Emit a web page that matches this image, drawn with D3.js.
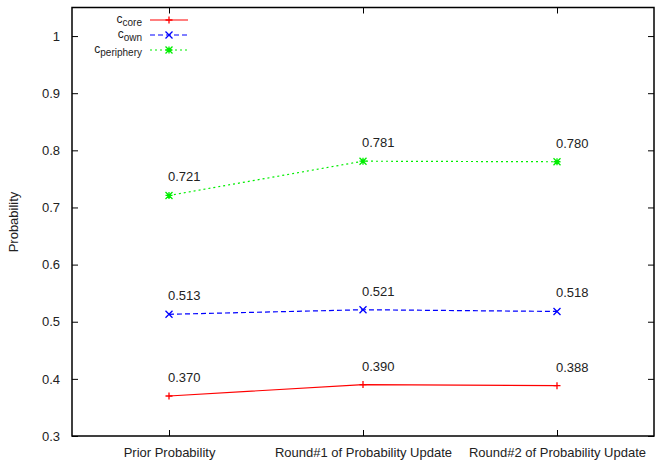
<!DOCTYPE html>
<html>
<head>
<meta charset="utf-8">
<script src="https://cdn.jsdelivr.net/npm/d3@7"></script>
<style>
  body { margin: 0; background: #fff; }
  svg text { font-family: "Liberation Sans", Arial, sans-serif; }
</style>
</head>
<body>
<div id="chart"></div>
<script>
// data
const categories = ["Prior Probability", "Round#1 of Probability Update", "Round#2 of Probability Update"];
const coreValues = [0.370, 0.390, 0.388];
const ownValues = [0.513, 0.521, 0.518];
const peripheryValues = [0.721, 0.781, 0.780];
const yTicks = [0.3, 0.4, 0.5, 0.6, 0.7, 0.8, 0.9, 1];

const seriesNames = [
  {base: "c", sub: "core"},
  {base: "c", sub: "own"},
  {base: "c", sub: "periphery"}
];
const seriesValues = [coreValues, ownValues, peripheryValues];
const colors = ["#ff0000", "#0000ff", "#00ee00"];
const dashes = [null, "5,3", "2,3"];
const markers = ["plus", "cross", "star"];

const W = 662, H = 460;
const margin = {top: 7.5, right: 8, bottom: 24, left: 72};
const width = W - margin.left - margin.right,
    height = H - margin.top - margin.bottom;

const svg = d3.select("#chart")
    .append("svg")
    .attr("width", W)
    .attr("height", H)
    .append("g")
    .attr("transform", `translate(${margin.left},${margin.top})`);

const xScale = d3.scaleLinear()
    .domain([-0.5, categories.length - 0.5])
    .range([0, width]);

const yScale = d3.scaleLinear()
    .domain([0.3, 1.05])
    .range([height, 0]);

// left axis (ticks inward)
svg.append("g")
    .call(d3.axisLeft(yScale).tickValues(yTicks).tickSize(-6).tickPadding(12)
        .tickFormat(d => d3.format("")(+d.toFixed(1))))
    .call(g => g.select(".domain").remove())
    .call(g => g.selectAll("text").attr("font-size", "13px").attr("fill", "#222"));

// right mirror ticks
svg.append("g")
    .attr("transform", `translate(${width},0)`)
    .call(d3.axisRight(yScale).tickValues(yTicks).tickSize(-6).tickFormat(""))
    .call(g => g.select(".domain").remove());

// bottom axis
svg.append("g")
    .attr("transform", `translate(0,${height})`)
    .call(d3.axisBottom(xScale).tickValues(d3.range(categories.length)).tickSize(-6).tickPadding(12)
        .tickFormat(i => categories[i]))
    .call(g => g.select(".domain").remove())
    .call(g => g.selectAll("text").attr("font-size", "13px").attr("fill", "#222"));

// top mirror ticks
svg.append("g")
    .call(d3.axisTop(xScale).tickValues(d3.range(categories.length)).tickSize(-6).tickFormat(""))
    .call(g => g.select(".domain").remove());

svg.selectAll(".tick line").attr("stroke", "#000");

// frame
svg.append("rect")
    .attr("x", 0).attr("y", 0)
    .attr("width", width).attr("height", height)
    .attr("fill", "none")
    .attr("stroke", "#000")
    .attr("stroke-width", 1.5);

// y title
svg.append("text")
    .attr("transform", `translate(${18 - margin.left},${222 - margin.top}) rotate(-90)`)
    .attr("text-anchor", "middle")
    .attr("font-size", "13px")
    .attr("fill", "#222")
    .text("Probability");

function drawMarker(g, type, x, y, color) {
  const s = 3.5;
  const p = d3.path();
  if (type === "plus" || type === "star") {
    p.moveTo(x - s, y); p.lineTo(x + s, y);
    p.moveTo(x, y - s); p.lineTo(x, y + s);
  }
  if (type === "cross" || type === "star") {
    p.moveTo(x - s, y - s); p.lineTo(x + s, y + s);
    p.moveTo(x - s, y + s); p.lineTo(x + s, y - s);
  }
  g.append("path")
      .attr("d", p.toString())
      .attr("stroke", color)
      .attr("stroke-width", 1.3)
      .attr("fill", "none");
}

const line = d3.line()
    .x((d, i) => xScale(i))
    .y(d => yScale(d));

seriesValues.forEach(function (vals, k) {
  const g = svg.append("g");
  g.append("path")
      .datum(vals)
      .attr("d", line)
      .attr("fill", "none")
      .attr("stroke", colors[k])
      .attr("stroke-width", 1.2)
      .attr("stroke-dasharray", dashes[k]);
  vals.forEach(function (v, i) {
    drawMarker(g, markers[k], xScale(i), yScale(v), colors[k]);
    g.append("text")
        .attr("x", xScale(i) - 1)
        .attr("y", yScale(v) - 14)
        .attr("font-size", "13px")
        .attr("fill", "#222")
        .text(v.toFixed(3));
  });
});

// legend
const legend = svg.append("g")
    .attr("transform", `translate(${142 - margin.left},${20 - margin.top})`);

seriesNames.forEach(function (s, k) {
  const row = legend.append("g").attr("transform", `translate(0,${k * 15})`);
  const t = row.append("text")
      .attr("x", 0)
      .attr("y", 3)
      .attr("text-anchor", "end")
      .attr("font-size", "12px")
      .attr("fill", "#222");
  t.append("tspan").text(s.base);
  t.append("tspan").attr("dy", 3).attr("font-size", "10px").text(s.sub);
  row.append("line")
      .attr("x1", 8).attr("x2", 46)
      .attr("y1", 0).attr("y2", 0)
      .attr("stroke", colors[k])
      .attr("stroke-width", 1.2)
      .attr("stroke-dasharray", dashes[k]);
  drawMarker(row, markers[k], 27, 0, colors[k]);
});
</script>
</body>
</html>
